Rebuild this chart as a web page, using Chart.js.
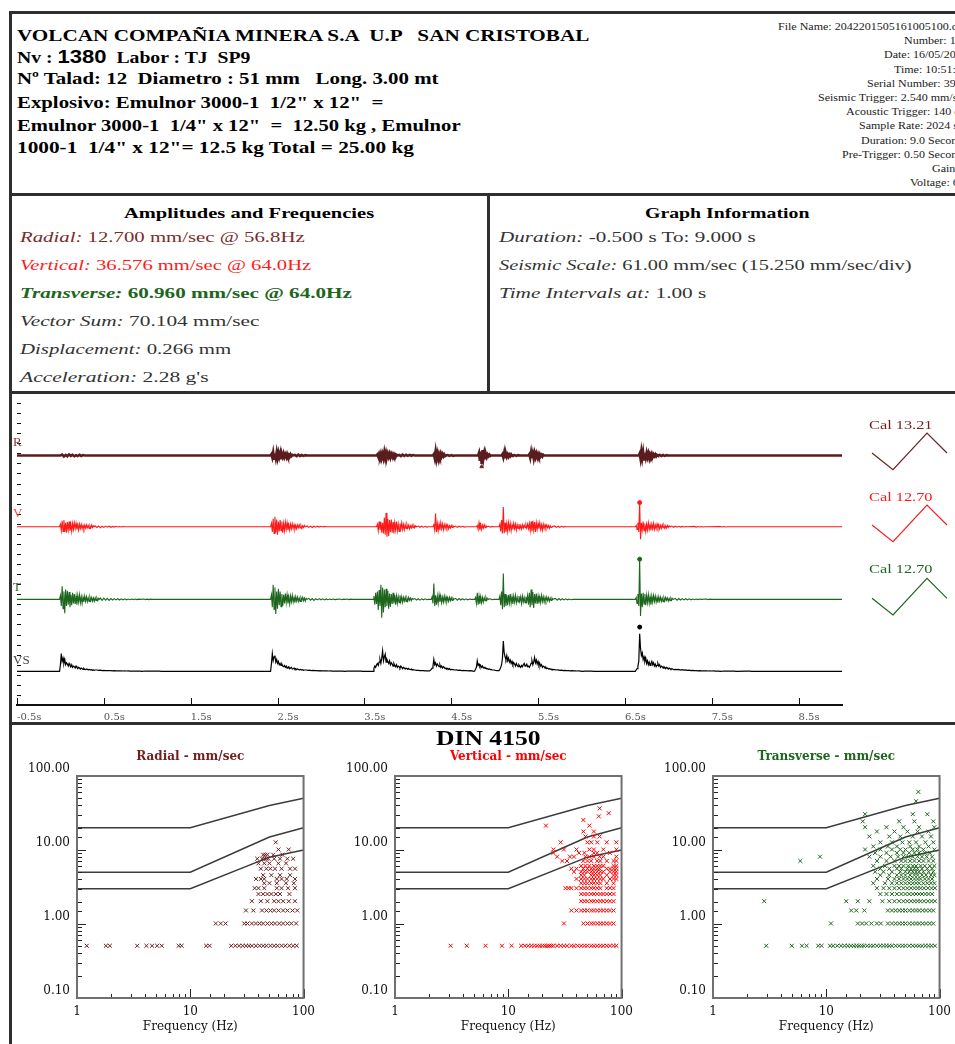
<!DOCTYPE html>
<html><head><meta charset="utf-8"><title>DIN 4150</title>
<script src="https://cdn.jsdelivr.net/npm/chart.js@4.4.1/dist/chart.umd.min.js"></script>
<style>
html,body{margin:0;padding:0;width:955px;height:1044px;overflow:hidden;background:#fff;position:relative}
.ln{position:absolute;background:#2f2f2f}
.t{position:absolute;white-space:pre;line-height:1.15;transform-origin:0 50%}
canvas{position:absolute}
</style></head><body>
<div class="ln" style="left:9px;top:11px;width:946px;height:3px"></div>
<div class="ln" style="left:9px;top:11px;width:3px;height:1033px"></div>
<div class="ln" style="left:9px;top:193px;width:946px;height:3px"></div>
<div class="ln" style="left:9px;top:391px;width:946px;height:3px"></div>
<div class="ln" style="left:9px;top:722px;width:946px;height:3px"></div>
<div class="ln" style="left:487px;top:194px;width:3px;height:199px"></div>
<canvas id="wave" width="836" height="330" style="left:11px;top:395px"></canvas>
<canvas id="cal" width="100" height="330" style="left:855px;top:395px"></canvas>
<canvas id="dinR" width="308" height="299" style="left:14px;top:745px"></canvas>
<canvas id="dinV" width="308" height="299" style="left:332px;top:745px"></canvas>
<canvas id="dinT" width="308" height="299" style="left:650px;top:745px"></canvas>
<script>
// ---------------- DATA ----------------
const timeTicks = [-0.5, 0.5, 1.5, 2.5, 3.5, 4.5, 5.5, 6.5, 7.5, 8.5];
const timeTickLabels = ['-0.5s', '0.5s', '1.5s', '2.5s', '3.5s', '4.5s', '5.5s', '6.5s', '7.5s', '8.5s'];
const seismicDiv = 15.25;          // mm/sec per division

// [start time (s), sample interval (s), velocity samples (mm/s)]
const radialSegs = [
  [0.00, 0.02, [0,1.2,-1.5,0.8,-1.2,1.5,-0.6,1,-1.2,0.5,-0.8,1,-0.7,0.6,0]],
  [2.42, 0.01, [0,2,-3,4.5,-5,3,-4,5,-3.5,4,-2.5,3,-4,2.5,-2,3,-2.5,1.5,-2,2.5,-1.5,1,-1.8,1.5,-1,0.8,0]],
  [2.70, 0.02, [0.8,-1,1.2,-0.8,0.6,-0.6,0.5,0]],
  [3.64, 0.01, [0,1.5,-2,2.5,-1.8,3,-3.5,2,-4,5,-3,4,-2.5,3,-2,2.5,-3,2,-1.5,2,-1.2,1.5,-2,1,0]],
  [3.90, 0.02, [0.8,-1,1.2,-0.8,1,-0.6,0.8,-0.5,0.6,0]],
  [4.29, 0.01, [0,2,-4,6,-5,3,-4,2.5,-2,3,-1.5,2,-1.2,1.5,-1,0]],
  [4.46, 0.02, [0.6,-0.6,0.5,-0.5,0]],
  [4.81, 0.01, [0,4,-8,6,-12.7,8,-5,3,-4,2,-2.5,1.5,-1,1.2,-0.8,0]],
  [5.08, 0.01, [0,2,-3,4,-2.5,3,-2,1.5,-2,1.2,-1,1.5,-0.8,0]],
  [5.23, 0.02, [0.6,-0.6,0.5,0]],
  [5.39, 0.01, [0,2,-3.5,5,-4,3,-4.5,3.5,-2.5,3,-2,2.5,-1.5,2,-1.2,1,-1.5,1,0]],
  [6.66, 0.01, [0,3,-5,6,-4,5,-6,4,-3,4,-2.5,3,-3.5,2,-1.5,2.5,-2,1.5,-1,1.5,-1.2,1,0]],
  [6.90, 0.02, [0.8,-0.8,0.6,-0.6,0.5,0]]
];
const verticalSegs = [
  [-0.01, 0.01, [0,4,-6,9,-7,10,-8,6,-9,7,-5,8,-6,4,-7,5,-4,6,-3,5,-4,3,-5,4,-2.5,3.5,-3,2,-3.5,2.5,-2,3,-1.5,2,-2.5,1.5,-2,2.5,-1.2,1.5,0]],
  [0.40, 0.02, [1.5,-1,1.2,-1.5,0.8,-1,1,-0.6,0.8,-0.8,0.5,-0.5,0.6,-0.4,0.4,-0.4,0.3,0]],
  [2.42, 0.01, [0,5,-8,12,-10,15,-9,11,-12,8,-7,10,-6,8,-9,5,-6,7,-4,6,-5,3,-5,4,-3,4.5,-2.5,3,-4,2,-3,2.5,-1.5,3,-2,1.5,-2.5,1.5,-1,2,0]],
  [2.84, 0.02, [1.2,-1,1,-1.2,0.8,-0.6,0.8,-0.5,0.6,-0.4,0.5,0]],
  [3.64, 0.01, [0,4,-6,8,-5,7,-9,6,-10,14,-12,21,-15,12,-14,10,-8,11,-9,7,-10,6,-5,8,-6,4,-7,5,-3,6,-4,3.5,-4.5,3,-2.5,3.5,-2,2.5,-3,1.5,-2,2.5,-1.5,2,-1.2,1.5,0]],
  [4.12, 0.02, [1,-0.8,0.8,-0.6,0.6,-0.5,0]],
  [4.29, 0.01, [0,3,-5,20,-8,5,-6,4,-5,6,-3,4,-4.5,3,-2.5,3.5,-2,2.5,-3,1.5,-2,2,-1.2,1.5,0]],
  [4.55, 0.02, [1,-1,0.8,-0.6,0.6,-0.5,0]],
  [4.79, 0.01, [0,2,-4,6,-5,3,-4,2.5,-2,3,-1.5,1.5,0]],
  [4.93, 0.02, [0.8,-0.6,0.5,0]],
  [5.05, 0.01, [0,4,-7,10,-10,30,-10,6,-8,5,-7,6,-4,5,-6,3,-4,5,-3,4,-5,3,-2.5,4,-3,2,-3.5,3,-2,2.5,-1.5,3,-2,4,-3,5,-6,8,-7,9,-5,7,-8,6,-4,5,-3,6,-4,3,-5,4,-2.5,3,-2,2.5,-1.5,2,-2.5,1.5,-1,0]],
  [5.69, 0.02, [1.2,-1,0.8,-0.8,0.6,-0.5,0.4,0]],
  [6.62, 0.01, [0,2,-4,6,-8,36.6,-19,6,-5,8,-6,5,-7,4,-5,6,-4,3,-5,4,-3,5,-4,2.5,-3,4,-2,3,-3.5,2,-2.5,3,-1.5,2,-2.5,1.5,-2,2,-1,1.5,0]],
  [7.04, 0.02, [1,-0.8,0.8,-0.6,0.6,-0.5,0.5,-0.4,0.4,0]],
  [7.30, 0.02, [0.5,-0.5,0.4,-0.4,0.4,-0.3,0]],
  [7.60, 0.02, [0.4,-0.4,0.3,-0.3,0]]
];
const transverseSegs = [
  [-0.01, 0.01, [0,6,-10,20,-14,12,-21,15,-10,13,-8,11,-12,7,-9,10,-6,8,-7,5,-8,6,-4,7,-5,4,-6,3.5,-4,5,-3,4,-3.5,2.5,-3,3.5,-2,3,-2.5,2,-3,2.5,-1.5,2,-2,1.5,0]],
  [0.46, 0.02, [2,-1.5,1.8,-1.2,1.5,-1.5,1.2,-1,1.2,-0.8,1,-1,0.8,-0.6,0.8,-0.6,0.6,-0.5,0.6,-0.4,0.5,-0.4,0.4,0]],
  [0.96, 0.02, [0.5,-0.4,0.4,-0.4,0.3,0]],
  [2.42, 0.01, [0,7,-12,22,-15,18,-22,12,-14,16,-9,12,-11,8,-10,7,-6,9,-5,7,-6,4,-7,5,-3.5,6,-4,3,-5,4,-2.5,3.5,-3,2,-3,2.5,-1.5,3,-2,2,-2.5,1.5,0]],
  [2.86, 0.02, [1.5,-1.2,1.2,-1.5,1,-0.8,1.2,-0.6,0.8,-0.8,0.6,-0.5,0.6,-0.4,0.5,-0.4,0]],
  [3.22, 0.02, [0.5,-0.5,0.4,0,0.5,-0.4,0.4,0]],
  [3.60, 0.01, [0,5,-8,10,-7,12,-16,14,-10,22,-28,18,-20,15,-12,16,-10,13,-14,9,-11,8,-7,10,-6,7,-8,5,-6,4,-5,6,-3.5,4,-4.5,3,-2.5,3.5,-3,2,-2.5,3,-1.5,2,-2,1.5,0]],
  [4.08, 0.02, [1.2,-1,1,-1.2,0.8,-0.6,0.8,-0.5,0]],
  [4.27, 0.01, [0,4,-6,24,-10,6,-8,5,-6,7,-4,5,-5,3.5,-4,5,-3,4,-3.5,2.5,-3,3,-2,2.5,-1.5,2,0]],
  [4.55, 0.02, [1.5,-1.2,1.2,-1,1,-0.8,0.8,-0.6,0.5,0]],
  [4.77, 0.01, [0,3,-6,10,-8,5,-7,4,-5,3,-4,2.5,-2,3,-1.5,1.5,0]],
  [4.95, 0.02, [0.8,-0.6,0]],
  [5.05, 0.01, [0,5,-9,12,-15,39,-12,8,-10,6,-9,7,-5,8,-6,4,-7,5,-4,6,-5,3,-4,5,-3,4,-6,5,-4,3,-5,4,-3,6,-8,10,-12,15,-9,11,-13,8,-6,9,-7,5,-6,4,-5,6,-3,4,-4,3,-2.5,3.5,-2,2.5,-3,2,-1.5,2,0]],
  [5.70, 0.02, [1.5,-1.2,1.2,-1,1,-0.8,0.8,-0.6,0.6,-0.5,0]],
  [6.62, 0.01, [0,3,-6,8,-10,60.96,-25,9,-12,10,-7,8,-9,6,-5,7,-6,4,-8,5,-4,6,-3,5,-4,3,-5,4,-2.5,3.5,-3,2,-3.5,2.5,-2,3,-1.5,2,-2.5,1.5,-2,2,-1,1.5,0]],
  [7.08, 0.02, [1.5,-1.2,1.2,-1,1.2,-0.8,1,-0.8,0.8,-0.6,0.6,-0.5,0.6,-0.4,0.5,0]],
  [7.44, 0.02, [0.5,-0.4,0.4,0]]
];
const vectorSumSegs = [
  [-0.01, 0.01, [0,10,27,15,20,12,18,10,13,11,8,12,9,7,10,6,8,7,5,8,6,4,6,5,3.5,5,4,3,4.5,3,2.5,3.5,3,2,3,2.5,2,2.5,1.5,2,1.5,2]],
  [0.42, 0.02, [2,1.5,1.8,1.2,1.5,1,1.2,1,1.2,0.8,1,0.8,0.8,0.6,0.8,0.5,0.6,0.5,0.6,0.4,0.5,0.3,0.4,0.3,0.4,0.3,0]],
  [0.98, 0.02, [0.5,0.3,0.5,0.3,0.4,0.2,0.4,0.2,0.3,0]],
  [2.42, 0.01, [0,12,27,16,22,24,14,18,12,15,10,12,9,11,8,7,9,6,8,5,6,7,4,5,6,3.5,4,5,3,4,2.5,3.5,3,2,3,2.5,2,2.5,1.5,2]],
  [2.83, 0.02, [2,1.5,1.8,1.2,1.5,1,1.2,0.8,1,0.8,0.8,0.6,0.8,0.5,0.6,0.4,0.5,0.4,0.5,0.3,0.4,0.3,0]],
  [3.30, 0.02, [0.4,0.3,0.4,0.2,0.4,0.2,0.3,0.2,0.3,0]],
  [3.60, 0.01, [0,5,8,6,10,12,9,14,18,12,20,31,16,22,26,14,18,15,12,16,10,13,11,8,12,9,7,10,6,8,7,5,8,6,4,6,5,3.5,5,4,3,4.5,3,2.5,3.5,2,2.5]],
  [4.08, 0.02, [2,1.5,1.5,1.2,1,1.2,0.8,0.6]],
  [4.25, 0.01, [0.6,1.5,3,5,8,18,10,13,8,11,9,7,10,6,8,5,7,6,4,5,3.5,4.5,3,4,2.5,3]],
  [4.52, 0.02, [2.5,2,2.2,1.5,1.8,1.2,1.5,1,1.2,0.8,1,0.6,0]],
  [4.77, 0.01, [0.6,3,6,16,9,11,7,9,6,8,5,6,4.5,5,3.5,4,3,3.5,2.5,3,2]],
  [4.99, 0.02, [2,1.5,1.2]],
  [5.05, 0.01, [1,3,6,10,20,46,28,22,18,24,16,20,14,17,12,15,10,13,11,8,12,9,7,10,8,6,9,7,10,12,8,9,11,7,8,6,9,12,16,10,14,21,13,17,11,15,9,12,8,10,6,8,7,5,6,4,5,3.5,4,3,3.5,2.5,3]],
  [5.69, 0.02, [2.5,2,2.2,1.5,1.8,1.2,1.5,1,1.2,0.8,1,0.6,0.8,0.5,0.6,0.4,0]],
  [6.04, 0.02, [0.4,0.3,0.4,0.2,0.3,0]],
  [6.62, 0.01, [0,2,4,8,15,57,35,24,28,18,22,15,20,12,16,10,14,9,12,15,10,13,8,11,7,9,12,8,10,6,8,7,5,7,6,4,6,5,3.5,5,4,3,4,3.5,2.5]],
  [7.08, 0.02, [3,2.5,2.8,2,2.5,1.8,2.2,1.5,1.8,1.2,1.5,1,1.2,0.8,1,0.8,0.8,0.6,0.8,0.5,0.6,0.5,0.6,0.4,0.5,0.4,0]],
  [7.64, 0.02, [0.5,0.3,0.4,0.3,0.4,0.2,0.3,0]],
  [7.90, 0.02, [0.3,0.2,0.3,0]]
];
// peak markers [time s, mm/s]
const radialMark = [4.85, -17];
const verticalPeak = [6.67, 36.6];
const transversePeak = [6.67, 60.96];
const vectorSumPeak = [6.67, 67];
// calibration pulse (relative time, mm/s)
const calTime = [0.17, 0.38, 0.72, 0.92];
const calValue = [0, -25, 30, 0];

// DIN 4150 limit curves
const dinFreq = [1, 10, 50, 100];
const dinLine1 = [20, 20, 40, 50];
const dinLine2 = [5, 5, 15, 20];
const dinLine3 = [3, 3, 8, 10];
const yTickVals = [0.1, 1, 10, 100];
const yTickText = ['0.10', '1.00', '10.00', '100.00'];
const fTickVals = [1, 10, 100];
const fTickText = ['1', '10', '100'];

// [amplitude mm/s, frequencies Hz]
const radialRows = [
  [0.508, [1.22,1.8,1.95,3.4,4.1,4.6,5.1,5.6,7.9,8.4,13.8,14.8,23,25,27,29,31,33,35,38,41,44,47,51,55,59,64,69,75,81,87]],
  [1.016, [16.8,18.6,20.5,30,32,35,38,41,44,48,52,56,61,66,72,78,86]],
  [1.524, [31,36,43,47,51,55,60,66,72,80,88]],
  [2.032, [35,42,48,55,60,66,74,84]],
  [2.54, [40,44,48,52,57,62,75]],
  [3.048, [37,40,45,58,64,73,84]],
  [3.556, [45,50,58,70,82]],
  [4.064, [38,42,45,58,64,71,84]],
  [4.572, [44,52,62,76]],
  [5.588, [42,47,51,56,64,76,84]],
  [6.604, [40,45,50,60,70]],
  [7.62, [39,43,45,47,49,55,62,72,81]],
  [8.636, [44,46,48,54,65]],
  [10.16, [60,74]],
  [12.7, [56.8]]
];
const verticalRows = [
  [0.508, [3.1,4.3,6.3,8.8,10.7,13,14,15,16,17,18,19,20,21,22,23,24,25,27,29,31,33,36,38,41,44,47,50,54,57,61,65,69,74,79,85,90]],
  [1.016, [31,46,50,54,57,61,65,69,74,79,85]],
  [1.524, [36,40,44,47,50,54,57,61,65,69,74,79,85]],
  [2.032, [44,47,50,54,57,61,65,69,74,79,85]],
  [2.54, [44,47,50,54,57,61,65,69,74,79,85]],
  [3.048, [32,34,36,40,44,47,50,54,57,61,65,74,79,85]],
  [3.556, [44,47,50,54,57,61,65,74,85]],
  [4.064, [40,44,47,50,54,57,61,65,69,79,85,90]],
  [4.572, [44,47,54,57,61,65,74,85,90]],
  [5.08, [38,44,47,50,54,57,61,65,69,79,85,90]],
  [5.588, [36,40,46,50,54,57,61,64,74,79,85,90]],
  [6.096, [44,48,52,57,61,65,69,85,90]],
  [7.112, [30,33,46,50,54,61,65,74,85,90]],
  [8.128, [27,35,38,48,52,57,64,69,90]],
  [9.144, [25,42,47,57,61,79]],
  [10.16, [25,31,40,52,57,69,90]],
  [12.7, [29,50,54,61,74,90]],
  [15.24, [48,57,64]],
  [17.78, [46,57]],
  [21.336, [21.5,52]],
  [25.4, [46]],
  [28.448, [63]],
  [31.496, [77]],
  [36.576, [64]]
];
const transverseRows = [
  [0.508, [2.95,4.96,6.1,6.7,8.5,9.1,10.8,11.5,12.5,13.5,14.5,15.5,16.5,17.5,18.5,19.5,20.5,21.5,23,24.5,26,28,30,32,34,36,38,41,44,47,50,54,58,62,66,70,75,80,85,91]],
  [1.016, [11,19,20.7,22.5,25,28,30.3,35,38,41,44,47,50,54,58,62,66,71,76,82,88]],
  [1.524, [16.6,18.4,21.7,35,38,41,44,47,50,54,58,62,66,71,76,82,88]],
  [2.032, [2.83,15,19,24,31.3,36,40,44,48,52,56,60,64,68,73,79,85,91]],
  [2.54, [30,34,38,42,46,50,54,58,62,66,70,75,80,86]],
  [3.048, [28,32,36,40,44,48,52,56,60,64,68,73,79,85,91]],
  [3.556, [26,33,38,42,46,50,54,58,62,66,72,78,84,90]],
  [4.064, [28,35,40,44,48,52,56,60,64,68,74,80,86]],
  [4.572, [30,36,42,46,50,55,60,64,70,76,84,90]],
  [5.08, [27,32,38,45,50,54,58,62,66,72,80,88]],
  [5.588, [30,36,42,46,52,56,60,64,70,78,86]],
  [6.096, [26,33,40,44,48,53,58,62,68,74,82,90]],
  [7.112, [5.9,28,34,40,46,50,55,60,66,72,80,88]],
  [8.128, [8.8,24,30,37,43,48,53,58,64,70,77,86]],
  [9.144, [27,34,42,48,54,60,66,74,82]],
  [10.16, [22,30,38,45,50,58,64,72,90]],
  [11.176, [26,35,42,55,66,80]],
  [12.7, [30,38,47,54,62,75,88]],
  [15.24, [24,36,45,58,70,84]],
  [17.78, [28,40,52,64,80]],
  [20.32, [22,34,48,66,90]],
  [24.384, [21,44,60,88]],
  [30.48, [22,58,78]],
  [45.72, [62]],
  [60.96, [65]]
];

// ---------------- TEXT ----------------
const SERIF = '"Liberation Serif","Times New Roman",serif';
function put(html, x, y, size, o) {
  o = o || {};
  const d = document.createElement('div');
  d.className = 't';
  d.innerHTML = html;
  d.style.fontSize = size + 'px';
  d.style.fontWeight = o.b ? 'bold' : 'normal';
  d.style.color = o.c || '#000';
  d.style.fontFamily = o.f || SERIF;
  document.body.appendChild(d);
  const nat = d.offsetWidth;
  const k = o.w ? o.w / nat : (o.k || 1);
  const W = nat * k;
  let left = x;
  if (o.a === 'c') left = x - W / 2; else if (o.a === 'r') left = x - W;
  d.style.left = left + 'px';
  d.style.top = y + 'px';
  d.style.transform = 'translateY(-50%) scaleX(' + k + ')';
}
const MAROON = '#6e1f1f', RED = '#ff1a1a', GREEN = '#1d661d';

put('VOLCAN COMPAÑIA MINERA S.A  U.P   SAN CRISTOBAL', 17, 36, 17, {b:1, w:573});
put('Nv : <span style="font-family:\'Liberation Sans\',Arial,sans-serif;font-size:19px">1380</span>  Labor : TJ  SP9', 17, 57, 17, {b:1, w:233});
put('Nº Talad: 12  Diametro : 51 mm   Long. 3.00 mt', 17, 79, 17, {b:1, w:421});
put('Explosivo: Emulnor 3000-1  1/2" x 12"  =', 17, 103, 17, {b:1, w:366});
put('Emulnor 3000-1  1/4" x 12"  =  12.50 kg , Emulnor', 17, 126, 17, {b:1, w:443});
put('1000-1  1/4" x 12"= 12.5 kg Total = 25.00 kg', 17, 148, 17, {b:1, w:397});

const topRight = ['File Name: 2042201505161005100.dtb', 'Number: 190', 'Date: 16/05/2015', 'Time: 10:51:05',
  'Serial Number: 3942', 'Seismic Trigger: 2.540 mm/sec', 'Acoustic Trigger: 140 dB', 'Sample Rate: 2024 sps',
  'Duration: 9.0 Seconds', 'Pre-Trigger: 0.50 Seconds', 'Gain: 2', 'Voltage: 6.2'];
topRight.forEach((s, i) => put(s, 968, 27 + i * 14.2, 10, {a:'r', k:1.2, c:'#222'}));

put('Amplitudes and Frequencies', 249, 214, 15, {b:1, a:'c', w:250});
put('<i>Radial:</i> 12.700 mm/sec @ 56.8Hz', 20, 238, 15, {c:'#7b2b2b', w:284});
put('<i>Vertical:</i> 36.576 mm/sec @ 64.0Hz', 20, 266, 15, {c:RED, w:291});
put('<i>Transverse:</i> 60.960 mm/sec @ 64.0Hz', 20, 294, 15, {b:1, c:GREEN, w:332});
put('<i>Vector Sum:</i> 70.104 mm/sec', 20, 322, 15, {c:'#333', w:239});
put('<i>Displacement:</i> 0.266 mm', 20, 350, 15, {c:'#333', w:211});
put('<i>Acceleration:</i> 2.28 g\'s', 20, 378, 15, {c:'#333', w:188});
put('Graph Information', 727, 214, 15, {b:1, a:'c', w:165});
put('<i>Duration:</i> -0.500 s To: 9.000 s', 499, 238, 15, {c:'#333', w:256});
put('<i>Seismic Scale:</i> 61.00 mm/sec (15.250 mm/sec/div)', 499, 266, 15, {c:'#333', w:413});
put('<i>Time Intervals at:</i> 1.00 s', 499, 294, 15, {c:'#333', w:207});

put('R', 13, 442, 13, {c:'#7a3a3a'});
put('V', 13, 513, 13, {c:'#ff4a4a'});
put('T', 13, 587, 13, {c:'#2d6a2d'});
put('VS', 13, 660, 13, {c:'#444'});
put('Cal 13.21', 869, 426, 12, {c:MAROON, w:64});
put('Cal 12.70', 869, 498, 12, {c:RED, w:64});
put('Cal 12.70', 869, 570, 12, {c:GREEN, w:64});
put('DIN 4150', 488, 738, 20, {b:1, a:'c', w:105});

// ---------------- CHARTS ----------------
Chart.defaults.font.family = '"DejaVu Serif", serif';
Chart.defaults.animation = false;

const OFF = {R: 378, V: 270, T: 160, VS: 51};   // trace baselines (layout)
function trace(segs, off) {
  const pts = [{x: -0.5, y: off}];
  segs.forEach(([t0, dt, vals]) => vals.forEach((v, i) => pts.push({x: +(t0 + i * dt).toFixed(3), y: off + v})));
  pts.push({x: 9, y: off});
  return pts.sort((a, b) => a.x - b.x);
}
function dot(p, off) { return [{x: p[0], y: off + p[1]}]; }

const waveTicks = {
  id: 'waveTicks',
  afterDraw(c) {
    const {ctx, chartArea: a, scales: {x, y}} = c;
    ctx.save(); ctx.strokeStyle = '#111'; ctx.lineWidth = 1;
    timeTicks.forEach(v => {
      const px = Math.round(x.getPixelForValue(v)) + 0.5;
      ctx.beginPath(); ctx.moveTo(px, a.bottom); ctx.lineTo(px, a.bottom - 7); ctx.stroke();
    });
    for (let v = 0; v <= y.max; v += seismicDiv) {
      const py = Math.round(y.getPixelForValue(v)) + 0.5;
      ctx.beginPath(); ctx.moveTo(a.left, py); ctx.lineTo(a.left + 4, py); ctx.stroke();
    }
    ctx.restore();
  }
};

const lineDs = (data, color, w) => ({data, borderColor: color, borderWidth: w, pointRadius: 0, tension: 0, fill: false});
const dotDs = (data, color, style, r) => ({data, showLine: false, pointRadius: r, pointStyle: style, backgroundColor: color, borderColor: color, borderWidth: 1});

new Chart(document.getElementById('wave'), {
  type: 'line',
  data: {datasets: [
    lineDs(trace(radialSegs, OFF.R), '#5a1c1c', 2.6),
    lineDs(trace(verticalSegs, OFF.V), RED, 1.1),
    lineDs(trace(transverseSegs, OFF.T), GREEN, 1.1),
    lineDs(trace(vectorSumSegs, OFF.VS), '#000', 1.2),
    dotDs(dot(radialMark, OFF.R), MAROON, 'triangle', 2),
    dotDs(dot(verticalPeak, OFF.V), RED, 'circle', 2),
    dotDs(dot(transversePeak, OFF.T), GREEN, 'circle', 2),
    dotDs(dot(vectorSumPeak, OFF.VS), '#000', 'circle', 2)
  ]},
  options: {
    responsive: false, devicePixelRatio: 1,
    layout: {padding: {top: 2, left: 0, right: 0, bottom: 0}},
    plugins: {legend: {display: false}, tooltip: {enabled: false}},
    scales: {
      x: {type: 'linear', min: -0.5, max: 9,
          afterBuildTicks: s => { s.ticks = timeTicks.map(v => ({value: v})); },
          ticks: {callback: (v, i) => timeTickLabels[i], align: 'start', padding: 6, autoSkip: false, maxRotation: 0,
                  color: '#555', font: {size: 10}},
          grid: {display: false, drawTicks: false},
          border: {display: true, color: '#111', width: 2},
          afterFit: s => { s.height = 20; }},
      y: {type: 'linear', min: 0, max: 462, display: false}
    }
  },
  plugins: [waveTicks]
});

new Chart(document.getElementById('cal'), {
  type: 'line',
  data: {datasets: [
    lineDs(calTime.map((t, i) => ({x: t, y: OFF.R + calValue[i]})), MAROON, 1.2),
    lineDs(calTime.map((t, i) => ({x: t, y: OFF.V + calValue[i]})), RED, 1.2),
    lineDs(calTime.map((t, i) => ({x: t, y: OFF.T + calValue[i]})), GREEN, 1.2)
  ]},
  options: {
    responsive: false, devicePixelRatio: 1,
    layout: {padding: {top: 2, bottom: 20, left: 0, right: 0}},
    plugins: {legend: {display: false}, tooltip: {enabled: false}},
    scales: {
      x: {type: 'linear', min: 0, max: 1, display: false},
      y: {type: 'linear', min: 0, max: 462, display: false}
    }
  }
});

function labelFor(v, vals, txt) {
  const i = vals.findIndex(t => Math.abs(Math.log10(v) - Math.log10(t)) < 1e-6);
  return i < 0 ? '' : txt[i];
}
const isDecade = v => Math.abs(Math.log10(v) - Math.round(Math.log10(v))) < 1e-6;
const dinDeco = {
  id: 'dinDeco',
  afterDraw(c) {
    const {ctx, chartArea: a, scales: {x, y}} = c;
    ctx.save();
    ctx.strokeStyle = '#222'; ctx.lineWidth = 1;
    x.ticks.forEach(t => {
      const px = Math.round(x.getPixelForValue(t.value)) + 0.5;
      const L = isDecade(t.value) ? 9 : 4;
      ctx.beginPath(); ctx.moveTo(px, a.bottom); ctx.lineTo(px, a.bottom - L); ctx.stroke();
    });
    y.ticks.forEach(t => {
      const py = Math.round(y.getPixelForValue(t.value)) + 0.5;
      const L = isDecade(t.value) ? 9 : 5;
      ctx.beginPath(); ctx.moveTo(a.left, py); ctx.lineTo(a.left + L, py); ctx.stroke();
    });
    ctx.strokeStyle = '#707070'; ctx.lineWidth = 2;
    ctx.strokeRect(a.left, a.top, a.right - a.left, a.bottom - a.top);
    ctx.restore();
  }
};

function dinChart(id, title, color, rows) {
  const pts = [];
  rows.forEach(([v, fs]) => fs.forEach(f => pts.push({x: f, y: v})));
  const lines = [dinLine1, dinLine2, dinLine3].map(arr => ({
    data: dinFreq.map((f, i) => ({x: f, y: arr[i]})), showLine: true, borderColor: '#3c3c3c',
    borderWidth: 1.5, pointRadius: 0, tension: 0, order: 2
  }));
  new Chart(document.getElementById(id), {
    type: 'scatter',
    data: {datasets: [
      {data: pts, pointStyle: 'crossRot', pointRadius: 2.8, borderColor: color, backgroundColor: color, borderWidth: 1, order: 1},
      ...lines
    ]},
    options: {
      responsive: false, devicePixelRatio: 1,
      layout: {padding: {left: 0, right: 15, top: 0, bottom: 0}},
      plugins: {
        legend: {display: false}, tooltip: {enabled: false},
        title: {display: true, text: title, color, fullSize: false,
                font: {size: 12, weight: 'bold', family: '"DejaVu Serif", serif'}, padding: {top: 5, bottom: 11.6}}
      },
      scales: {
        x: {type: 'logarithmic', min: 1, max: 100,
            ticks: {callback: v => labelFor(v, fTickVals, fTickText), autoSkip: false, maxRotation: 0, padding: 7,
                    color: '#111', font: {size: 12}},
            grid: {display: false, drawTicks: false}, border: {display: false},
            title: {display: true, text: 'Frequency (Hz)', color: '#111', font: {size: 12}, padding: {top: 0, bottom: 10}},
            afterFit: s => { s.height = 46; }},
        y: {type: 'logarithmic', min: 0.1, max: 100,
            ticks: {callback: v => labelFor(v, yTickVals, yTickText), autoSkip: false, labelOffset: -7, padding: 7,
                    color: '#111', font: {size: 12}},
            grid: {display: false, drawTicks: false}, border: {display: false},
            afterFit: s => { s.width = 63; }}
      }
    },
    plugins: [dinDeco]
  });
}
dinChart('dinR', 'Radial - mm/sec', MAROON, radialRows);
dinChart('dinV', 'Vertical - mm/sec', '#ff0000', verticalRows);
dinChart('dinT', 'Transverse - mm/sec', GREEN, transverseRows);
</script>
</body></html>
